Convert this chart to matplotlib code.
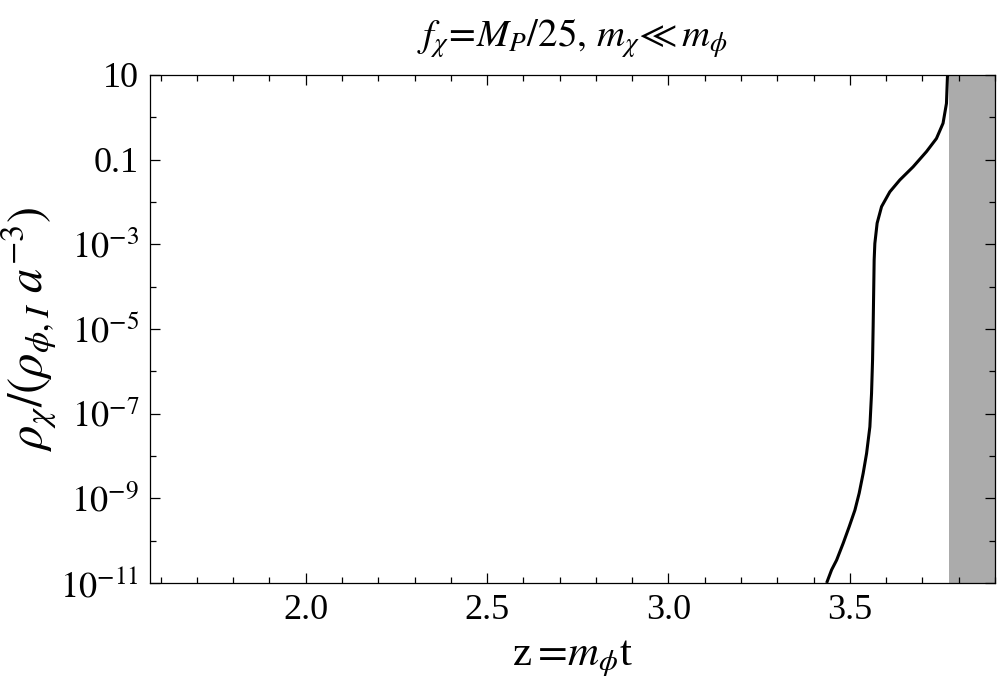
import numpy as np
import matplotlib.pyplot as plt
from matplotlib.ticker import FixedLocator, MultipleLocator

plt.rcParams['font.family'] = ['Liberation Serif', 'DejaVu Serif']
plt.rcParams['mathtext.fontset'] = 'stix'

# curve: z and log10(rho)
z = [3.4359, 3.4496, 3.4634, 3.4816, 3.4981, 3.5138, 3.5256, 3.5366, 3.5460,
     3.5551, 3.5597, 3.5625, 3.5641, 3.5669, 3.5688, 3.5751, 3.5873, 3.6101,
     3.6376, 3.6742, 3.7111, 3.7386, 3.7568, 3.7662, 3.7689, 3.7700]
logrho = [-11.0, -10.69, -10.46, -10.06, -9.67, -9.28, -8.88, -8.41, -7.94,
          -7.31, -6.52, -5.73, -4.95, -3.37, -2.98, -2.50, -2.11, -1.76,
          -1.48, -1.17, -0.81, -0.50, -0.14, 0.33, 0.96, 1.0]

band = [3.772, 3.9]
xlim = [1.5708, 3.9]
xticks = [2.0, 2.5, 3.0, 3.5]
yticks = [10, 0.1, 1e-3, 1e-5, 1e-7, 1e-9, 1e-11]
ylabels = ['10', '0.1', '$10^{-3}$', '$10^{-5}$', '$10^{-7}$', '$10^{-9}$', '$10^{-11}$']

fig = plt.figure(figsize=(10, 6.97), dpi=100)
ax = fig.add_axes([0.15, 0.1636, 0.845, 0.7288])

ax.axvspan(band[0], band[1], color='#ababab', lw=0, zorder=1)
ax.plot(z, 10 ** np.array(logrho), color='black', lw=2.2, zorder=3,
        solid_joinstyle='round', solid_capstyle='butt')

ax.set_yscale('log')
ax.set_xlim(xlim)
ax.set_ylim(1e-11, 10)

ax.xaxis.set_major_locator(FixedLocator(xticks))
ax.xaxis.set_minor_locator(MultipleLocator(0.1))
ax.set_xticklabels(['%.1f' % v for v in xticks])
ax.yaxis.set_major_locator(FixedLocator(yticks))
ax.set_yticklabels(ylabels)
ax.yaxis.set_minor_locator(FixedLocator([1, 1e-2, 1e-4, 1e-6, 1e-8, 1e-10]))
ax.yaxis.set_minor_formatter(plt.NullFormatter())

ax.tick_params(which='both', direction='in', top=True, right=True, labelsize=26, width=0.9)
ax.tick_params(which='major', length=7, pad=8)
ax.tick_params(which='minor', length=4)
for s in ax.spines.values():
    s.set_linewidth(0.9)

ax.set_xlabel(r'z$=\!m_{\phi}$t', fontsize=31, labelpad=8)
ax.set_ylabel(r'$\rho_{\chi}/(\rho_{\phi,I}\ a^{-3})$', fontsize=35, labelpad=2)
ax.set_title(r'$f_{\chi}\!=\!M_P/25,\,m_{\chi}\!\ll m_{\phi}$', fontsize=28, pad=20)

fig.savefig('out.png', dpi=100)
